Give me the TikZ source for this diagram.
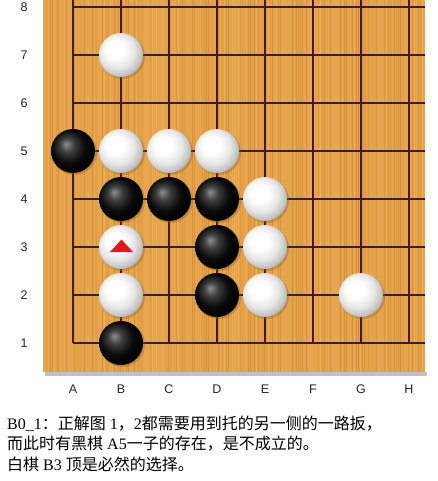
\documentclass[tikz,border=0pt]{standalone}
\usepackage{fontspec}
\setmainfont{Liberation Serif}
\newfontfamily\cjk{Noto Sans CJK SC}
\newfontfamily\lblfont{Liberation Sans}
\usetikzlibrary{calc}
\definecolor{wood}{RGB}{228,162,74}
\definecolor{wooddark}{RGB}{200,130,45}
\definecolor{woodlight}{RGB}{244,184,100}
\definecolor{gridc}{RGB}{60,28,48}
\definecolor{tri}{RGB}{220,28,28}
\pgfdeclareradialshading{whitestone}{\pgfpoint{-8bp}{8bp}}{%
  color(0bp)=(white); color(10bp)=(white); color(20bp)=(white!90!black);
  color(27bp)=(white!76!black); color(33bp)=(white!62!black); color(50bp)=(white!60!black)}
\pgfdeclareradialshading{blackstone}{\pgfpoint{-8bp}{8bp}}{%
  color(0bp)=(black!45); color(8bp)=(black!75); color(18bp)=(black!95);
  color(25bp)=(black); color(50bp)=(black)}
\tikzset{
  wstone/.style={circle, minimum size=44pt, inner sep=0pt, shading=whitestone},
  bstone/.style={circle, minimum size=44pt, inner sep=0pt, shading=blackstone},
  lbl/.style={font=\lblfont\fontsize{12.5}{13}\selectfont, text=black!85, inner sep=0pt},
  txt/.style={font=\fontsize{16}{20}\selectfont, anchor=west, inner sep=0pt},
  gridline/.style={draw=gridc, line width=1.3pt},
}
\begin{document}
\begin{tikzpicture}[x=1pt,y=-1pt]
\useasboundingbox (0,0) rectangle (438,481);
\fill[white] (0,0) rectangle (438,481);
% board
\fill[black!40, opacity=0.6] (45,372) rectangle (427,376);
\fill[wood] (43,0) rectangle (425,372);
\pgfmathsetseed{42}
\foreach \i in {0,...,190}{
  \pgfmathsetmacro{\xx}{44+2*\i}
  \pgfmathsetmacro{\op}{0.1+0.45*rnd}
  \pgfmathsetmacro{\cc}{rnd}
  \ifdim\cc pt>0.5pt
    \draw[wooddark, opacity=\op, line width=0.8pt] (\xx,0) -- (\xx,372);
  \else
    \draw[woodlight, opacity=\op, line width=0.8pt] (\xx,0) -- (\xx,372);
  \fi
}
% grid
\foreach \r in {1,...,8}{
  \pgfmathsetmacro{\yy}{343-48*(\r-1)}
  \coordinate (rl\r) at (73,\yy);
  \coordinate (rr\r) at (425,\yy);
  \draw[gridline] (rl\r) -- (rr\r);
}
\foreach \c [count=\k from 0] in {A,B,C,D,E,F,G,H}{
  \pgfmathsetmacro{\xx}{73+48*\k}
  \coordinate (ct\c) at (\xx,0);
  \coordinate (cb\c) at (\xx,343);
  \draw[gridline] (ct\c) -- (cb\c);
}
% labels
\foreach \r in {1,...,8}{
  \pgfmathsetmacro{\yy}{343-48*(\r-1)}
  \node[lbl] (row\r) at (24,\yy) {\r};
}
\foreach \c [count=\k from 0] in {A,B,C,D,E,F,G,H}{
  \pgfmathsetmacro{\xx}{73+48*\k}
  \node[lbl] (col\c) at (\xx,389) {\c};
}
% stones: shadows then stones
\foreach \n/\x/\y in {A5/73/151,B5/121/151,C5/169/151,D5/217/151,B7/121/55,
  B4/121/199,C4/169/199,D4/217/199,E4/265/199,B3/121/247,D3/217/247,E3/265/247,
  B2/121/295,D2/217/295,E2/265/295,G2/361/295,B1/121/343}{
  \fill[wooddark!70!black, opacity=0.35] (\x+1.5,\y+1.5) circle (22.5);
}
\foreach \n/\x/\y in {B5/121/151,C5/169/151,D5/217/151,B7/121/55,E4/265/199,
  B3/121/247,E3/265/247,B2/121/295,E2/265/295,G2/361/295}{
  \node[wstone] (\n) at (\x,\y) {};
}
\foreach \n/\x/\y in {A5/73/151,B4/121/199,C4/169/199,D4/217/199,D3/217/247,
  D2/217/295,B1/121/343}{
  \node[bstone] (\n) at (\x,\y) {};
}
% triangle mark on B3
\fill[tri] ($(B3)+(0.5,-7.5)$) -- ($(B3)+(12,5)$) -- ($(B3)+(-11,5)$) -- cycle;
% text
\node[txt] (t1) at (7,424) {B0\_1{\cjk ：正解图} 1{\cjk ，}2{\cjk 都需要用到托的另一侧的一路扳，}};
\node[txt] (t2) at (7,444) {{\cjk 而此时有黑棋} A5{\cjk 一子的存在，是不成立的。}};
\node[txt] (t3) at (7,464) {{\cjk 白棋} B3 {\cjk 顶是必然的选择。}};
\end{tikzpicture}
\end{document}
